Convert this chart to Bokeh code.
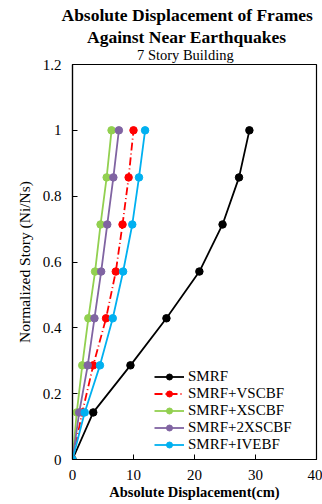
from bokeh.plotting import figure
from bokeh.models import Title, Legend, LegendItem, FixedTicker, Range1d
from bokeh.embed import file_html
from bokeh.resources import INLINE

# ---- data ----
story_levels = [0, 0.143, 0.286, 0.429, 0.571, 0.714, 0.857, 1.0]
smrf = [0, 3.4, 9.5, 15.4, 20.8, 24.6, 27.3, 29.0]
smrf_vscbf = [0, 1.6, 3.4, 5.5, 7.1, 8.2, 9.2, 10.0]
smrf_xscbf = [0, 0.7, 1.6, 2.6, 3.7, 4.6, 5.6, 6.4]
smrf_2xscbf = [0, 1.1, 2.5, 3.6, 4.7, 5.7, 6.7, 7.6]
smrf_ivebf = [0, 2.0, 4.5, 6.6, 8.3, 9.8, 10.9, 11.9]

series_names = ["SMRF", "SMRF+VSCBF", "SMRF+XSCBF", "SMRF+2XSCBF", "SMRF+IVEBF"]
x_ticks = [0, 10, 20, 30, 40]
x_tick_labels = ["0", "10", "20", "30", "40"]
y_ticks = [0, 0.2, 0.4, 0.6, 0.8, 1.0, 1.2]
y_tick_labels = ["0", "0.2", "0.4", "0.6", "0.8", "1", "1.2"]

FONT = "Liberation Serif"

p = figure(width=322, height=504, output_backend="svg", toolbar_location=None,
           x_range=Range1d(0, 40), y_range=Range1d(0, 1.2),
           min_border_left=72, min_border_right=6, min_border_top=64,
           min_border_bottom=45)
p.background_fill_color = "white"
p.border_fill_color = "white"
p.xgrid.visible = False
p.ygrid.visible = False
p.outline_line_color = "black"
p.outline_line_width = 1.2

# titles (added from closest to frame outward)
t3 = Title(text="7 Story Building", align="left", offset=64.5,
           text_font=FONT, text_font_size="14.5px", text_font_style="normal",
           text_color="black", standoff=0, vertical_align="top")
t2 = Title(text="Against Near Earthquakes", align="left", offset=14.5,
           text_font=FONT, text_font_size="17.5px", text_font_style="bold",
           text_color="black", standoff=0)
t1 = Title(text="Absolute Displacement of Frames", align="left", offset=-11,
           text_font=FONT, text_font_size="17.5px", text_font_style="bold",
           text_color="black", standoff=0)
p.add_layout(t3, "above")
p.add_layout(t2, "above")
p.add_layout(t1, "above")

# axes
p.xaxis.ticker = FixedTicker(ticks=x_ticks)
p.xaxis.major_label_overrides = dict(zip(x_ticks, x_tick_labels))
p.yaxis.ticker = FixedTicker(ticks=y_ticks)
p.yaxis.major_label_overrides = dict(zip(y_ticks, y_tick_labels))
for ax in (p.xaxis, p.yaxis):
    ax.major_tick_in = 5
    ax.major_tick_out = 0
    ax.minor_tick_in = 0
    ax.minor_tick_out = 0
    ax.axis_line_color = "black"
    ax.axis_line_width = 1.2
    ax.major_tick_line_color = "black"
    ax.major_label_text_font = FONT
    ax.major_label_text_font_size = "15px"
    ax.major_label_text_color = "black"
    ax.axis_label_text_font = FONT
    ax.axis_label_text_color = "black"

p.xaxis.axis_label = "Absolute Displacement(cm)"
p.xaxis.axis_label_text_font_style = "bold"
p.xaxis.axis_label_text_font_size = "14.5px"
p.xaxis.major_label_standoff = 10
p.xaxis.axis_label_standoff = 1

p.yaxis.axis_label = "Normalized Story (Ni/Ns)"
p.yaxis.axis_label_text_font_style = "normal"
p.yaxis.axis_label_text_font_size = "15.5px"
p.yaxis.major_label_standoff = 11
p.yaxis.axis_label_standoff = 7

colors = ["#000000", "#FF0000", "#92D050", "#8064A2", "#00B0F0"]
dashes = ["solid", "8 3 1 3", "solid", "solid", "solid"]
all_series = [smrf, smrf_vscbf, smrf_xscbf, smrf_2xscbf, smrf_ivebf]

items = []
for name, xs, c, d in zip(series_names, all_series, colors, dashes):
    ln = p.line(xs, story_levels, line_color=c, line_width=1.8, line_dash=d)
    sc = p.scatter(xs, story_levels, marker="circle", size=7.5,
                   fill_color=c, line_color=c)
    items.append(LegendItem(label=name, renderers=[ln, sc]))

legend = Legend(items=items, location=(82, 6))
legend.label_text_font = FONT
legend.label_text_font_size = "15px"
legend.label_text_line_height = 1.0
legend.label_text_color = "black"
legend.glyph_width = 30
legend.glyph_height = 15
legend.label_height = 15
legend.label_standoff = 4
legend.spacing = -1
legend.padding = 0
legend.margin = 0
legend.border_line_color = None
legend.background_fill_alpha = 0
p.add_layout(legend, "center")

open("out.html", "w").write(file_html(p, INLINE))
